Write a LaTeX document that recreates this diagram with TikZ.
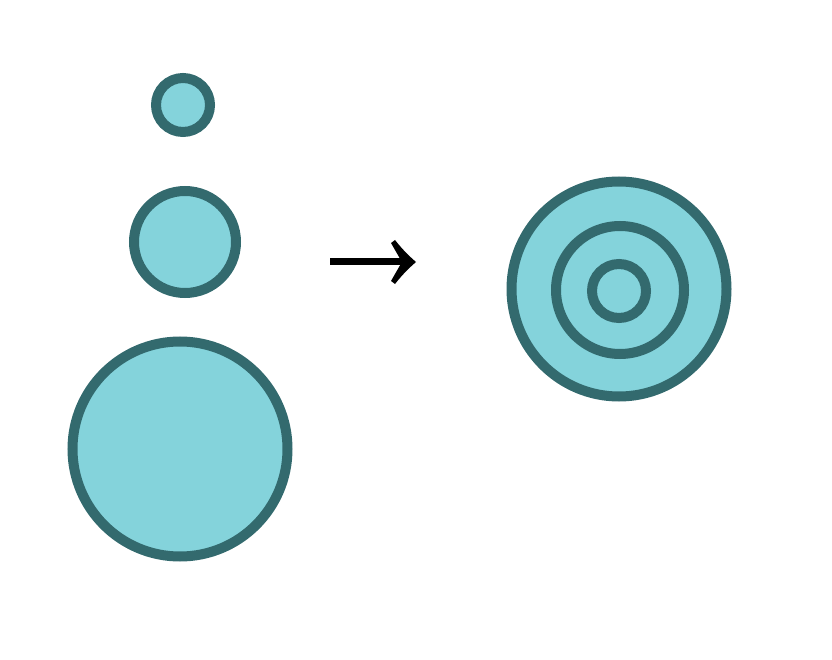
\documentclass[tikz,border=0pt]{standalone}
\definecolor{ringfill}{HTML}{84D3DB}
\definecolor{ringline}{HTML}{336A6E}
\begin{document}
\begin{tikzpicture}[x=1pt,y=-1pt,
  ring/.style={circle,draw=ringline,fill=ringfill,line width=10pt,inner sep=0pt,minimum size=#1}]
\useasboundingbox (0,0) rectangle (832,660);
\node[ring=54pt] (s) at (183,105) {};
\node[ring=102pt] (m) at (185,242) {};
\node[ring=215pt] (l) at (180,449) {};
\node[ring=215pt] (ro) at (619,289) {};
\node[ring=128pt] (rm) at (620,290) {};
\node[ring=54pt] (ri) at (619,291) {};
% arrow symbol
\coordinate (a0) at (330,262);
\coordinate (a1) at (408,262);
\draw[line width=7pt,black] (a0) -- (a1);
\fill[black] (391,243) -- (395,240) .. controls (402,249) and (409,256) .. (416,262)
  .. controls (409,268) and (402,275) .. (395,284) -- (391,281)
  .. controls (395,274) and (399,267) .. (402,262)
  .. controls (399,257) and (395,250) .. (391,243) -- cycle;
\end{tikzpicture}
\end{document}
